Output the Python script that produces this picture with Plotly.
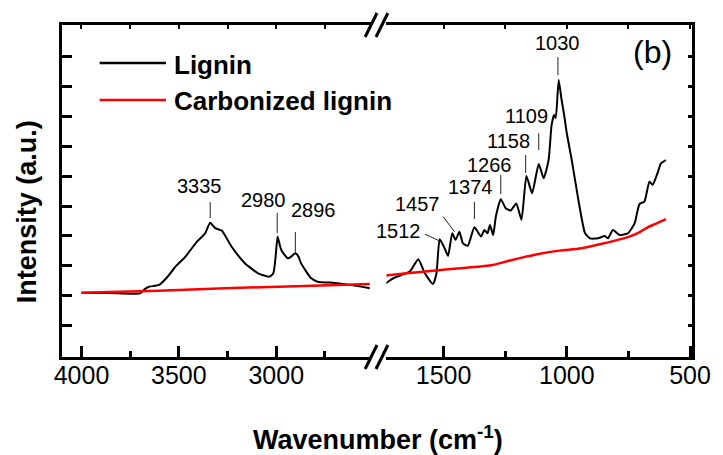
import plotly.graph_objects as go

# ---------------- data ----------------
# Lignin, high-wavenumber segment (4000-2500 cm-1)
lignin_hi_wn = [4000, 3850, 3700, 3675, 3654, 3602, 3560, 3518, 3466, 3407, 3380, 3365,
                3339, 3313, 3280, 3229, 3161, 3093, 3034, 3015, 3004, 2993, 2982, 2974,
                2955, 2940, 2923, 2902, 2885, 2873, 2845, 2822, 2788, 2700, 2635, 2520]
lignin_hi_int = [2.10, 2.09, 2.08, 2.22, 2.30, 2.36, 2.62, 2.97, 3.31, 3.81, 3.98, 4.09,
                 4.44, 4.26, 4.18, 3.64, 3.09, 2.75, 2.64, 2.75, 3.25, 3.98, 3.70, 3.53,
                 3.35, 3.25, 3.31, 3.42, 3.30, 3.09, 2.80, 2.59, 2.47, 2.43, 2.38, 2.25]

# Lignin, fingerprint segment (1750-600 cm-1)
lignin_lo_wn = [1750, 1703, 1637, 1603, 1576, 1543, 1529, 1516, 1496, 1482, 1465, 1452,
                1436, 1422, 1402, 1375, 1348, 1335, 1322, 1312, 1299, 1288, 1268, 1248,
                1228, 1205, 1184, 1164, 1141, 1114, 1094, 1074, 1062, 1052, 1045, 1033,
                1022, 1010, 1000, 980, 953, 926, 906, 873, 846, 833, 813, 786, 752, 725,
                705, 685, 665, 652, 632, 618, 598]
lignin_lo_int = [2.33, 2.59, 2.81, 3.22, 2.75, 2.39, 2.75, 3.89, 3.59, 3.33, 4.09, 3.87,
                 4.14, 3.76, 3.67, 4.29, 3.98, 4.20, 4.09, 4.37, 4.03, 4.65, 5.23, 4.93,
                 4.85, 5.09, 4.54, 6.01, 5.43, 6.41, 5.93, 6.54, 7.70, 8.05, 7.95, 9.22,
                 8.60, 8.00, 7.43, 6.54, 5.20, 4.09, 3.92, 3.92, 4.00, 3.92, 4.20, 4.03,
                 4.09, 4.42, 5.07, 5.15, 5.82, 5.71, 6.10, 6.43, 6.54]

# Carbonized lignin
carb_hi_wn = [4000, 3600, 3263, 2900, 2520]
carb_hi_int = [2.10, 2.17, 2.25, 2.32, 2.39]
carb_lo_wn = [1750, 1650, 1543, 1420, 1301, 1235, 1170, 1114, 1030, 940, 846, 752, 710, 672, 635, 598]
carb_lo_int = [2.66, 2.75, 2.84, 2.93, 3.03, 3.17, 3.30, 3.40, 3.51, 3.59, 3.76, 3.96, 4.10, 4.29, 4.42, 4.56]

# Peak labels
peak_labels = ["3335", "2980", "2896", "1512", "1457", "1374", "1266", "1158", "1109", "1030"]

x_hi_ticks = [4000, 3500, 3000]
x_hi_minor = [3750, 3250, 2750]
x_lo_ticks = [1500, 1000, 500]
x_lo_minor = [1250, 750]
y_ticks = [1, 2, 3, 4, 5, 6, 7, 8, 9, 10]

# ---------------- style / layout helpers ----------------
FONT = "Liberation Sans, Arial, Helvetica, sans-serif"
L, R, T, B = 62, 25, 25, 98
W, H = 723, 455
PW, PH = W - L - R, H - T - B


def px(x):
    return (x - L) / PW


def py(y):
    return (H - B - y) / PH


# label layout: (axis side, text x, text y, leader x0, y0, x1, y1)
label_layout = {
    "3335": ("hi", 3396, 5.67, 3339, 5.13, 3339, 4.60),
    "2980": ("hi", 3065, 5.20, 2995, 4.77, 2995, 4.10),
    "2896": ("hi", 2811, 4.87, 2902, 4.13, 2902, 3.46),
    "1512": ("lo", 1684, 4.17, 1576, 4.06, 1518, 3.84),
    "1457": ("lo", 1608, 5.07, 1502, 4.65, 1456, 4.14),
    "1374": ("lo", 1389, 5.64, 1375, 5.14, 1375, 4.57),
    "1266": ("lo", 1314, 6.37, 1268, 6.04, 1268, 5.40),
    "1158": ("lo", 1238, 7.18, 1167, 6.71, 1167, 6.11),
    "1109": ("lo", 1164, 8.01, 1114, 7.44, 1114, 6.88),
    "1030": ("lo", 1039, 10.45, 1036, 9.99, 1036, 9.38),
}

fig = go.Figure()

line_kw = dict(mode="lines", showlegend=False, hoverinfo="skip")
fig.add_trace(go.Scatter(x=lignin_hi_wn, y=lignin_hi_int, xaxis="x", yaxis="y",
                         line=dict(color="black", width=2, shape="spline", smoothing=0.5), **line_kw))
fig.add_trace(go.Scatter(x=carb_hi_wn, y=carb_hi_int, xaxis="x", yaxis="y",
                         line=dict(color="#ff0000", width=2.5, shape="spline", smoothing=0.8), **line_kw))
fig.add_trace(go.Scatter(x=lignin_lo_wn, y=lignin_lo_int, xaxis="x2", yaxis="y2",
                         line=dict(color="black", width=2, shape="spline", smoothing=0.5), **line_kw))
fig.add_trace(go.Scatter(x=carb_lo_wn, y=carb_lo_int, xaxis="x2", yaxis="y2",
                         line=dict(color="#ff0000", width=2.5, shape="spline", smoothing=0.8), **line_kw))
# invisible traces so that the top tick axes are drawn
fig.add_trace(go.Scatter(x=[hi_x for hi_x in x_hi_ticks[:1]], y=[y_ticks[0]], xaxis="x3", yaxis="y",
                         opacity=0, **line_kw))
fig.add_trace(go.Scatter(x=[lo_x for lo_x in x_lo_ticks[:1]], y=[y_ticks[0]], xaxis="x4", yaxis="y2",
                         opacity=0, **line_kw))

yrange = [-0.05, 11.06]
hi_range = [4100, 2515]
lo_range = [1732, 492]

xcommon = dict(showline=True, linewidth=3, linecolor="black", mirror=True,
               ticks="inside", ticklen=11, tickwidth=2.5, tickcolor="black",
               showgrid=False, zeroline=False, tickmode="array",
               tickfont=dict(size=25, family=FONT, color="black"),
               ticklabelstandoff=-6)
minor_common = dict(tickmode="array", ticks="inside", ticklen=6, tickwidth=2.5, tickcolor="black")
topcommon = dict(side="top", showline=False, ticks="inside", ticklen=4, tickwidth=2,
                 tickcolor="black", showticklabels=False, showgrid=False, zeroline=False,
                 tickmode="array")
ycommon = dict(range=yrange, showline=True, linewidth=3, linecolor="black",
               ticks="inside", tickwidth=2.5, tickcolor="black", showticklabels=False,
               showgrid=False, zeroline=False, tickmode="array", tickvals=y_ticks)

fig.update_layout(
    width=W, height=H,
    margin=dict(l=L, r=R, t=T, b=B),
    paper_bgcolor="white", plot_bgcolor="white",
    showlegend=False,
    xaxis=dict(domain=[0, 0.49], range=hi_range, tickvals=x_hi_ticks, anchor="y",
               minor=dict(tickvals=x_hi_minor, **minor_common), **xcommon),
    xaxis2=dict(domain=[0.515, 1], range=lo_range, tickvals=x_lo_ticks, anchor="y2",
                minor=dict(tickvals=x_lo_minor, **minor_common), **xcommon),
    xaxis3=dict(overlaying="x", anchor="y", range=hi_range, tickvals=x_hi_ticks + x_hi_minor, **topcommon),
    xaxis4=dict(overlaying="x2", anchor="y2", range=lo_range, tickvals=x_lo_ticks + x_lo_minor, **topcommon),
    yaxis=dict(anchor="x", side="left", ticklen=10, **ycommon),
    yaxis2=dict(anchor="x2", side="right", ticklen=4, **ycommon),
)

shapes = []
annotations = []

# axis-break marks
for ybase in (T, H - B):
    for xc in (374, 385):
        shapes.append(dict(type="line", xref="paper", yref="paper",
                           x0=px(xc - 6), y0=py(ybase + 12), x1=px(xc + 6), y1=py(ybase - 12),
                           line=dict(color="black", width=3)))

# peak labels and leader lines
for lab in peak_labels:
    side, tx, ty, lx0, ly0, lx1, ly1 = label_layout[lab]
    xr, yr = ("x", "y") if side == "hi" else ("x2", "y2")
    shapes.append(dict(type="line", xref=xr, yref=yr, x0=lx0, y0=ly0, x1=lx1, y1=ly1,
                       line=dict(color="#222222", width=1)))
    annotations.append(dict(text=lab, xref=xr, yref=yr, x=tx, y=ty, showarrow=False,
                            xanchor="center", yanchor="middle",
                            font=dict(size=20, family=FONT, color="black")))

# legend (drawn manually)
legend_items = [("Lignin", "black", 63, 65), ("Carbonized lignin", "#ff0000", 100, 101)]
for name, col, ly, ty in legend_items:
    shapes.append(dict(type="line", xref="paper", yref="paper", x0=px(100), x1=px(167),
                       y0=py(ly), y1=py(ly), line=dict(color=col, width=2.5)))
    annotations.append(dict(text="<b>%s</b>" % name, xref="paper", yref="paper",
                            x=px(173), y=py(ty), xanchor="left", yanchor="middle",
                            showarrow=False, font=dict(size=26, family=FONT, color="black")))

# panel tag
annotations.append(dict(text="(b)", xref="paper", yref="paper", x=px(658), y=py(52),
                        xanchor="center", yanchor="middle", showarrow=False,
                        font=dict(size=32, family=FONT, color="black")))
# axis titles
annotations.append(dict(text="<b>Wavenumber (cm<sup>-1</sup>)</b>", xref="paper", yref="paper",
                        x=px(381), y=py(438), xanchor="center", yanchor="middle", showarrow=False,
                        font=dict(size=27, family=FONT, color="black")))
annotations.append(dict(text="<b>Intensity (a.u.)</b>", xref="paper", yref="paper",
                        x=px(27), y=py(212), xanchor="center", yanchor="middle", showarrow=False,
                        textangle=-90, font=dict(size=27, family=FONT, color="black")))

fig.update_layout(shapes=shapes, annotations=annotations)
fig.write_html("out.html")
